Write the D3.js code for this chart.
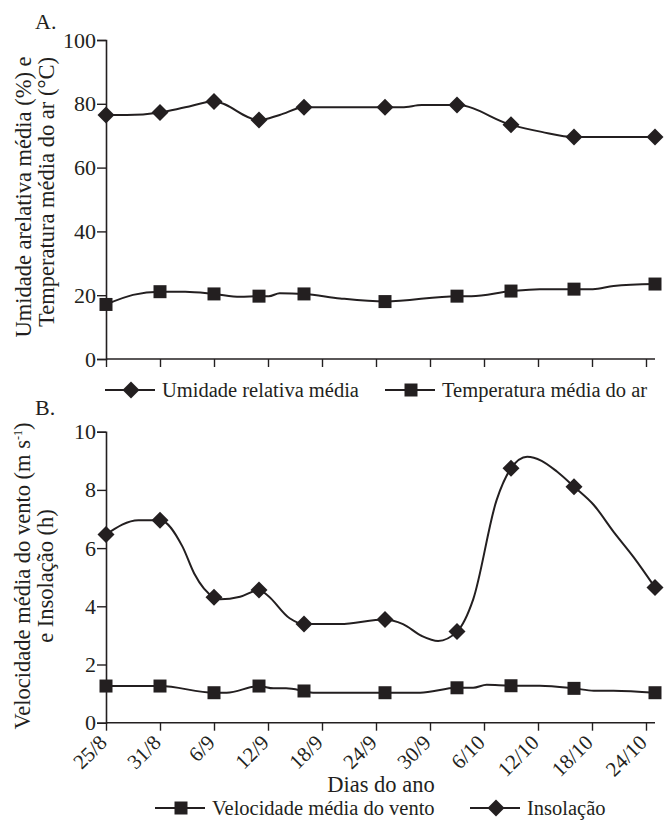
<!DOCTYPE html>
<html>
<head>
<meta charset="utf-8">
<script src="https://cdn.jsdelivr.net/npm/d3@7"></script>
</head>
<body style="margin:0; background:#fff">
<script>
// days counted from 25/8
const tickDays = [0, 6, 12, 18, 24, 30, 36, 42, 48, 54, 60];
const tickLabels = ['25/8', '31/8', '6/9', '12/9', '18/9', '24/9', '30/9', '6/10', '12/10', '18/10', '24/10'];
const markerDays = [0, 6, 12, 17, 22, 31, 39, 45, 52, 61];

// [day, value]
const umidade = [
  [0, 76.5], [2.3, 76.5], [6, 77.3], [8.8, 78.9], [12, 80.7], [17, 74.9],
  [19.3, 76.5], [22, 78.9], [31, 78.9], [32.9, 78.9], [35.1, 79.6], [39, 79.6],
  [45, 73.4], [48.4, 71.2], [52, 69.6], [61, 69.6]
];
const temperatura = [
  [0, 17.1], [3, 20.1], [6, 21.1], [8.8, 21.1], [12, 20.4], [14.9, 19.5],
  [17, 19.7], [18.1, 19.7], [19.3, 20.6], [22, 20.4], [26, 19.0], [31, 18.0],
  [39, 19.7], [40.6, 19.7], [45, 21.3], [48.2, 21.9], [52, 21.9], [54.1, 21.9],
  [56.4, 22.9], [61, 23.5]
];
const vento = [
  [0, 1.26], [6, 1.26], [12, 1.03], [13.4, 1.03], [17, 1.26], [18.6, 1.18],
  [20, 1.18], [22, 1.09], [23, 1.03], [31, 1.03], [34.9, 1.03], [39, 1.2],
  [40.8, 1.2], [42.3, 1.3], [45, 1.27], [48.2, 1.27], [52, 1.18], [54.2, 1.1],
  [56.4, 1.1], [61, 1.03]
];
const insolacao = [
  [0, 6.47], [3.6, 6.96], [6, 6.96], [8.5, 6.05], [9.8, 5.13], [12, 4.31],
  [12.7, 4.24], [14.9, 4.33], [17, 4.56], [17.9, 4.39], [20.4, 3.59], [22, 3.39],
  [26, 3.39], [31, 3.55], [33, 3.39], [35.1, 2.98], [36.9, 2.81], [39, 3.13],
  [40.8, 4.24], [43.4, 7.65], [45, 8.74], [46.8, 9.14], [48.4, 9.0], [50.1, 8.63],
  [52, 8.11], [54.2, 7.48], [56.4, 6.56], [58.6, 5.7], [61, 4.65]
];

const ink = '#231f20';
const serif = "'Liberation Serif'";
const svg = d3.select('body')
  .append('svg')
  .attr('width', 664)
  .attr('height', 820);

const xScale = d3.scaleLinear().domain([0, 61]).range([106, 655]);
const yA = d3.scaleLinear().domain([0, 100]).range([359, 40]);
const yB = d3.scaleLinear().domain([0, 10]).range([722.7, 431.7]);

const diamond = 'M0,-8.5L8.5,0L0,8.5L-8.5,0Z';
const square = 'M-6.5,-6.5H6.5V6.5H-6.5Z';

// every text goes through here so the serif face sticks
function label(sel, size) {
  return sel.attr('font-family', serif)
    .attr('font-size', size)
    .attr('fill', ink);
}

function drawAxes(y, bottom, tickVals, labels) {
  const xg = svg.append('g')
    .attr('transform', `translate(0, ${bottom})`)
    .call(d3.axisBottom(xScale).tickValues(tickDays).tickSize(8).tickFormat(''));
  xg.select('.domain').attr('d', `M${xScale(0)},0H${xScale(61)}`);

  const yg = svg.append('g')
    .attr('transform', `translate(${xScale(0)}, 0)`)
    .call(d3.axisLeft(y).tickValues(tickVals).tickSize(9).tickPadding(1));
  label(yg.selectAll('text'), 22);

  [xg, yg].forEach(g => {
    g.attr('font-family', serif);
    g.selectAll('line').attr('stroke', ink).attr('stroke-width', 1.4);
    g.select('.domain').attr('stroke', ink).attr('stroke-width', 1.6);
  });

  if (labels) {
    label(svg.selectAll('.xlab').data(tickDays).enter()
      .append('text'), 21)
      .attr('transform', d => `translate(${xScale(d) - 3}, ${bottom + 16}) rotate(-45)`)
      .attr('dy', '0.35em')
      .attr('text-anchor', 'end')
      .text((d, i) => labels[i]);
  }
}

function drawSeries(data, y, symbol) {
  const line = d3.line()
    .x(d => xScale(d[0]))
    .y(d => y(d[1]))
    .curve(d3.curveMonotoneX);
  svg.append('path')
    .datum(data)
    .attr('d', line)
    .attr('fill', 'none')
    .attr('stroke', ink)
    .attr('stroke-width', 2);
  svg.append('g').selectAll('path')
    .data(data.filter(d => markerDays.includes(d[0])))
    .enter()
    .append('path')
    .attr('d', symbol)
    .attr('transform', d => `translate(${xScale(d[0])}, ${y(d[1])})`)
    .attr('fill', ink);
}

function legendItem(x, y, symbol, text) {
  svg.append('line')
    .attr('x1', x).attr('x2', x + 50)
    .attr('y1', y).attr('y2', y)
    .attr('stroke', ink).attr('stroke-width', 2);
  svg.append('path')
    .attr('d', symbol)
    .attr('transform', `translate(${x + 26}, ${y})`)
    .attr('fill', ink);
  label(svg.append('text'), 20.5)
    .attr('x', x + 57)
    .attr('y', y + 7)
    .text(text);
}

// Panel A
drawAxes(yA, 359, [0, 20, 40, 60, 80, 100], null);
drawSeries(umidade, yA, diamond);
drawSeries(temperatura, yA, square);

label(svg.append('text'), 22).attr('x', 35).attr('y', 29).text('A.');

label(svg.append('text'), 22.5)
  .attr('transform', 'translate(31, 197) rotate(-90)')
  .attr('text-anchor', 'middle')
  .text('Umidade arelativa média (%) e');
label(svg.append('text'), 22.5)
  .attr('transform', 'translate(54, 192) rotate(-90)')
  .attr('text-anchor', 'middle')
  .text('Temperatura média do ar (°C)');

legendItem(105, 390, diamond, 'Umidade relativa média');
legendItem(385, 390, square, 'Temperatura média do ar');

// Panel B
drawAxes(yB, 722.7, [0, 2, 4, 6, 8, 10], tickLabels);
drawSeries(vento, yB, square);
drawSeries(insolacao, yB, diamond);

label(svg.append('text'), 22).attr('x', 35).attr('y', 415).text('B.');

const labB = label(svg.append('text'), 22.5)
  .attr('transform', 'translate(30, 576) rotate(-90)')
  .attr('text-anchor', 'middle');
labB.append('tspan').text('Velocidade média do vento (m s');
labB.append('tspan').attr('dy', -8).attr('font-size', 12).text('-1');
labB.append('tspan').attr('dy', 8).text(')');
label(svg.append('text'), 22.5)
  .attr('transform', 'translate(53, 576) rotate(-90)')
  .attr('text-anchor', 'middle')
  .text('e Insolação (h)');

label(svg.append('text'), 22.5)
  .attr('x', 381)
  .attr('y', 792)
  .attr('text-anchor', 'middle')
  .text('Dias do ano');

legendItem(155, 808, square, 'Velocidade média do vento');
legendItem(470, 808, diamond, 'Insolação');
</script>
</body>
</html>
